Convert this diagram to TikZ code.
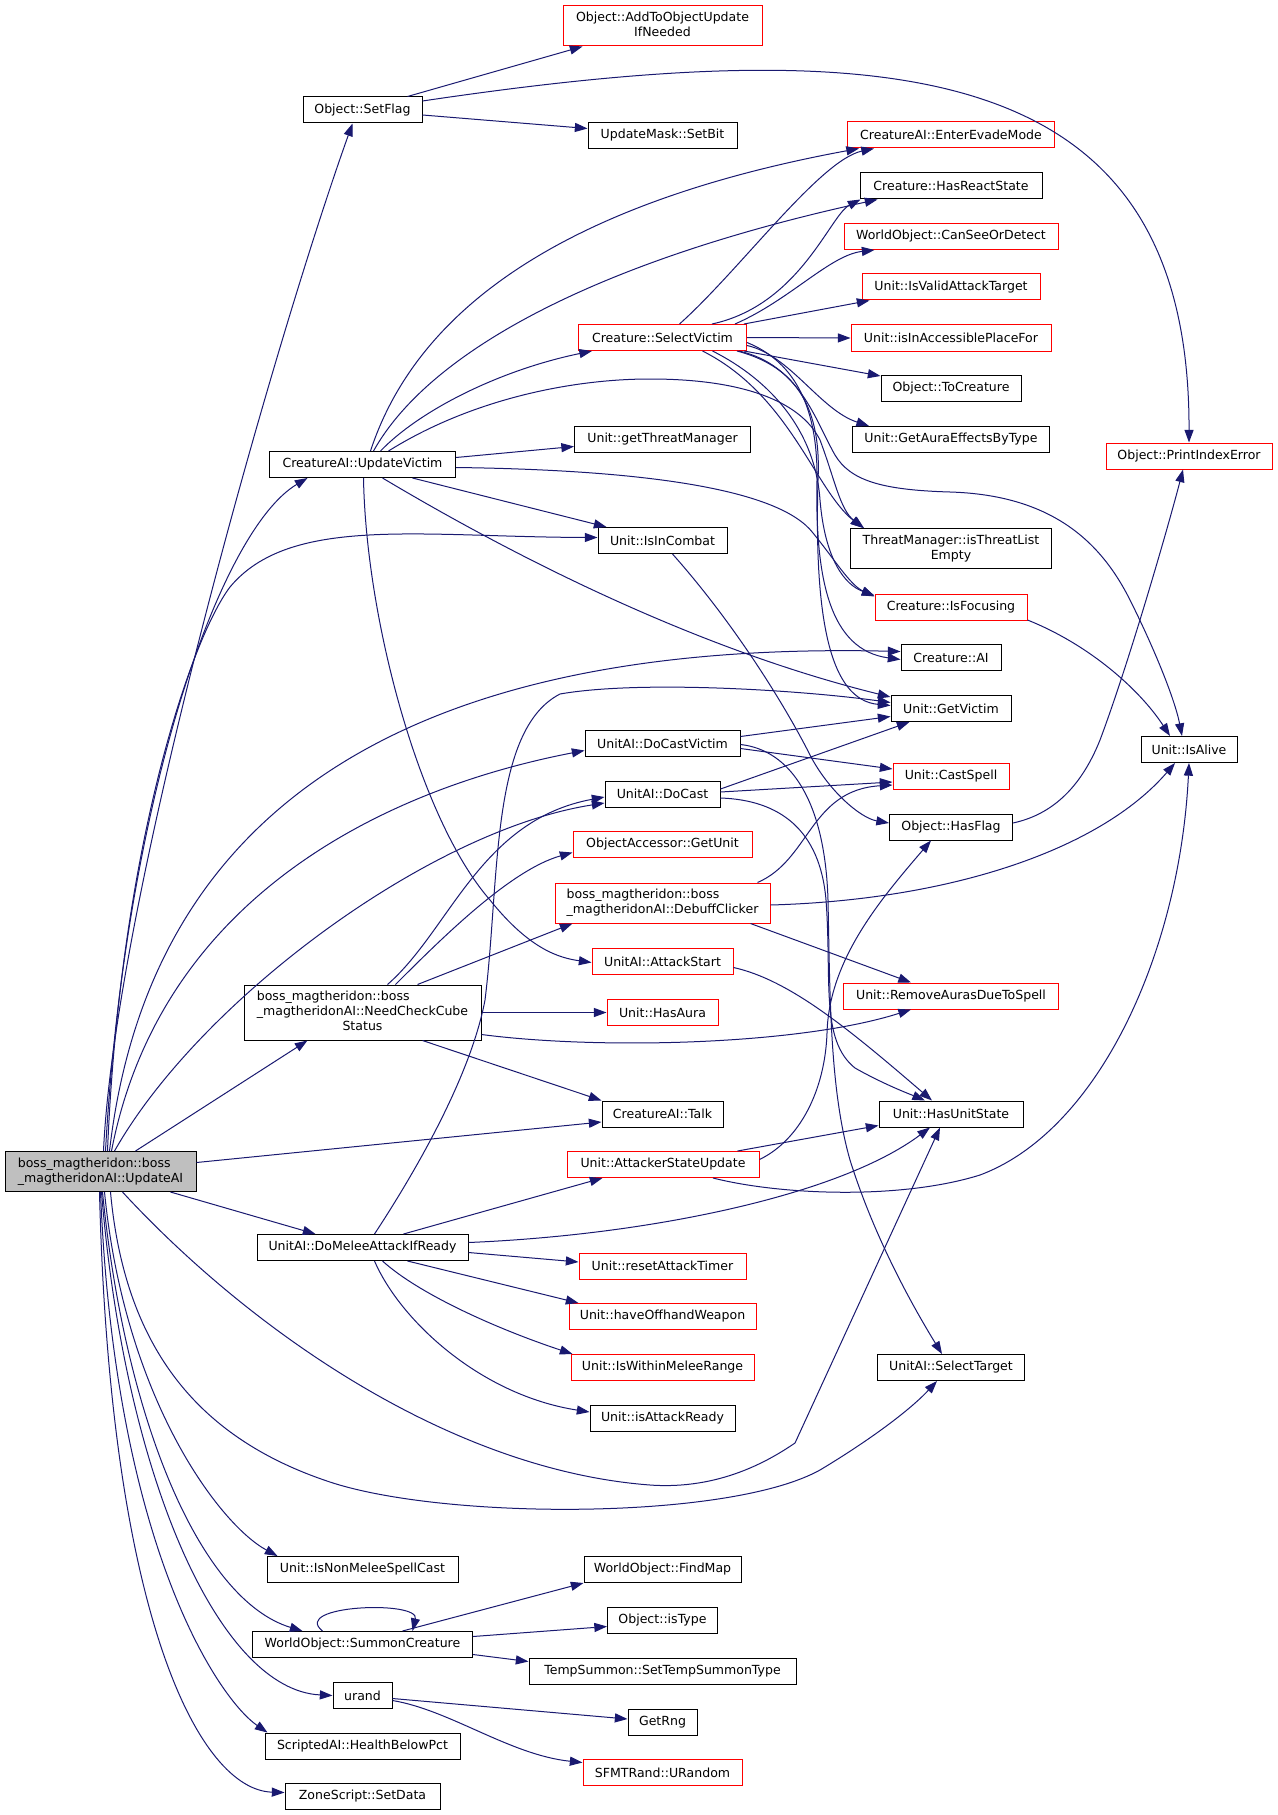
\documentclass[tikz,border=0pt]{standalone}
\usepackage{fontspec}
\setmainfont{DejaVu Sans}
\usetikzlibrary{arrows.meta,calc}
\definecolor{eblue}{RGB}{25,25,112}
\definecolor{bred}{RGB}{255,0,0}
\definecolor{gray75}{gray}{0.75}
\newcommand\mlTwo[2]{\begin{tabular}{@{}l@{}}#1\\\multicolumn{1}{@{}c@{}}{#2}\end{tabular}}
\newcommand\mlThree[3]{\begin{tabular}{@{}l@{}}#1\\#2\\\multicolumn{1}{@{}c@{}}{#3}\end{tabular}}
\begin{document}
\begin{tikzpicture}[x=0.75pt,y=-0.75pt,
  fn/.style={draw=black, line width=0.75pt, fill=white, inner sep=0pt, minimum height=26*0.75pt, font=\fontsize{9.4}{11.25}\selectfont},
  rn/.style={fn, draw=bred},
  e/.style={draw=eblue, line width=0.75pt, -{Triangle[length=9.5pt,width=6.8pt]}}]
\fill[white] (0,0) rectangle (1277,1815);
\useasboundingbox (0,0) rectangle (1277,1815);
% nodes
\node[rn, minimum width=199*0.75pt, minimum height=40*0.75pt] (aoun) at (662.5,26) {\mlTwo{Object::AddToObjectUpdate}{IfNeeded}};
\node[fn, minimum width=119*0.75pt] (sf) at (362.5,110) {Object::SetFlag};
\node[fn, minimum width=149*0.75pt] (sb) at (662.5,135.5) {UpdateMask::SetBit};
\node[rn, minimum width=207*0.75pt] (eem) at (951,135) {CreatureAI::EnterEvadeMode};
\node[fn, minimum width=182*0.75pt] (hrs) at (951,186) {Creature::HasReactState};
\node[rn, minimum width=214*0.75pt] (csd) at (951,236.5) {WorldObject::CanSeeOrDetect};
\node[rn, minimum width=178*0.75pt] (ivat) at (951,287) {Unit::IsValidAttackTarget};
\node[rn, minimum width=168*0.75pt] (sv) at (662.5,337.5) {Creature::SelectVictim};
\node[rn, minimum width=200*0.75pt] (iap) at (951,338) {Unit::isInAccessiblePlaceFor};
\node[fn, minimum width=140*0.75pt] (tc) at (951,388.5) {Object::ToCreature};
\node[fn, minimum width=176*0.75pt] (gtm) at (662.5,439.5) {Unit::getThreatManager};
\node[fn, minimum width=197*0.75pt] (gae) at (951,439.5) {Unit::GetAuraEffectsByType};
\node[rn, minimum width=166*0.75pt] (pie) at (1189,456) {Object::PrintIndexError};
\node[fn, minimum width=186*0.75pt] (uv) at (362.5,464.5) {CreatureAI::UpdateVictim};
\node[fn, minimum width=129*0.75pt] (ic) at (662.5,540.5) {Unit::IsInCombat};
\node[fn, minimum width=201*0.75pt, minimum height=40*0.75pt] (tle) at (951,548.5) {\mlTwo{ThreatManager::isThreatList}{Empty}};
\node[rn, minimum width=152*0.75pt] (isf) at (951,607) {Creature::IsFocusing};
\node[fn, minimum width=100*0.75pt] (ai) at (951,657.5) {Creature::AI};
\node[fn, minimum width=120*0.75pt] (gv) at (951,708.5) {Unit::GetVictim};
\node[fn, minimum width=155*0.75pt] (dcv) at (662.5,743.5) {UnitAI::DoCastVictim};
\node[fn, minimum width=96*0.75pt] (ia) at (1189,749.5) {Unit::IsAlive};
\node[rn, minimum width=116*0.75pt] (cs) at (951,776) {Unit::CastSpell};
\node[fn, minimum width=115*0.75pt] (dc) at (662.5,794) {UnitAI::DoCast};
\node[fn, minimum width=123*0.75pt] (hf) at (951,827) {Object::HasFlag};
\node[rn, minimum width=179*0.75pt] (gu) at (662.5,844.5) {ObjectAccessor::GetUnit};
\node[rn, minimum width=215*0.75pt, minimum height=40*0.75pt] (dbc) at (662.5,903) {\mlTwo{boss\_magtheridon::boss}{\_magtheridonAI::DebuffClicker}};
\node[rn, minimum width=141*0.75pt] (as) at (662.5,961.5) {UnitAI::AttackStart};
\node[rn, minimum width=215*0.75pt] (ra) at (951,996) {Unit::RemoveAurasDueToSpell};
\node[fn, minimum width=237*0.75pt, minimum height=55*0.75pt] (ncc) at (362.5,1012.5) {\mlThree{boss\_magtheridon::boss}{\_magtheridonAI::NeedCheckCube}{Status}};
\node[rn, minimum width=111*0.75pt] (ha) at (662.5,1012.5) {Unit::HasAura};
\node[fn, minimum width=121*0.75pt] (tk) at (662.5,1114) {CreatureAI::Talk};
\node[fn, minimum width=144*0.75pt] (hus) at (951,1114) {Unit::HasUnitState};
\node[fn, fill=gray75, minimum width=191*0.75pt, minimum height=40*0.75pt] (upd) at (100.5,1171.5) {\mlTwo{boss\_magtheridon::boss}{\_magtheridonAI::UpdateAI}};
\node[rn, minimum width=192*0.75pt] (asu) at (663,1164.5) {Unit::AttackerStateUpdate};
\node[fn, minimum width=211*0.75pt] (dm) at (362.5,1247.5) {UnitAI::DoMeleeAttackIfReady};
\node[rn, minimum width=167*0.75pt] (rat) at (662.5,1266) {Unit::resetAttackTimer};
\node[rn, minimum width=187*0.75pt] (how) at (662.5,1316.5) {Unit::haveOffhandWeapon};
\node[rn, minimum width=183*0.75pt] (iwm) at (662.5,1367.5) {Unit::IsWithinMeleeRange};
\node[fn, minimum width=147*0.75pt] (st) at (951,1367.5) {UnitAI::SelectTarget};
\node[fn, minimum width=145*0.75pt] (iar) at (662.5,1418) {Unit::isAttackReady};
\node[fn, minimum width=191*0.75pt] (inm) at (362.5,1569.5) {Unit::IsNonMeleeSpellCast};
\node[fn, minimum width=157*0.75pt] (fm) at (662.5,1569.5) {WorldObject::FindMap};
\node[fn, minimum width=110*0.75pt] (it) at (662.5,1620.5) {Object::isType};
\node[fn, minimum width=220*0.75pt] (sc) at (362.5,1644.5) {WorldObject::SummonCreature};
\node[fn, minimum width=267*0.75pt] (tst) at (662.5,1671.5) {TempSummon::SetTempSummonType};
\node[fn, minimum width=59*0.75pt] (ur) at (362.5,1695.5) {urand};
\node[fn, minimum width=69*0.75pt] (gr) at (662.5,1722) {GetRng};
\node[fn, minimum width=195*0.75pt] (hbp) at (362.5,1746) {ScriptedAI::HealthBelowPct};
\node[rn, minimum width=159*0.75pt] (urd) at (662.5,1772.5) {SFMTRand::URandom};
\node[fn, minimum width=155*0.75pt] (sd) at (362.5,1796.5) {ZoneScript::SetData};
% UpdateAI
\draw[e] ($(upd.north)+(3,0)$) .. controls (115,900) and (275,340) .. ($(sf.south)+(-10,0)$);
\draw[e] ($(upd.north)+(5,0)$) .. controls (125,800) and (220,530) .. ($(uv.south)+(-55,0)$);
\draw[e] ($(upd.north)+(7,0)$) .. controls (120,850) and (190,640) .. (230,587) .. controls (290,515) and (420,537) .. ($(ic.west)+(0,-3)$);
\draw[e] ($(upd.north)+(9,0)$) .. controls (150,800) and (420,640) .. ($(ai.west)+(0,-6)$);
\draw[e] ($(upd.north)+(11,0)$) .. controls (160,900) and (380,790) .. ($(dcv.west)+(0,7)$);
\draw[e] ($(upd.north)+(14,0)$) .. controls (200,1000) and (430,830) .. ($(dc.west)+(0,9)$);
\draw[e] ($(upd.north)+(35,0)$) -- ($(ncc.south)+(-55,0)$);
\draw[e] ($(upd.east)+(0,-9)$) -- ($(tk.west)+(0,8)$);
\draw[e] ($(upd.south)+(70,0)$) -- ($(dm.north)+(-47,0)$);
\draw[e] ($(upd.south)+(22,0)$) .. controls (250,1330) and (450,1470) .. (650,1485) .. controls (720,1490) and (770,1460) .. (795,1443) -- ($(hus.south)+(-11,0)$);
\draw[e] ($(upd.south)+(10,0)$) .. controls (125,1350) and (200,1440) .. (333,1483) .. controls (450,1520) and (730,1520) .. (820,1470) .. controls (870,1440) and (910,1410) .. ($(st.south)+(-14,0)$);
\draw[e] ($(upd.south)+(4,0)$) .. controls (125,1400) and (220,1525) .. ($(inm.north)+(-85,0)$);
\draw[e] ($(upd.south)+(2,0)$) .. controls (125,1420) and (200,1600) .. ($(sc.north)+(-60,0)$);
\draw[e] ($(upd.south)+(1,0)$) .. controls (125,1480) and (220,1690) .. (ur.west);
\draw[e] (upd.south) .. controls (115,1550) and (220,1700) .. ($(hbp.north)+(-95,0)$);
\draw[e] ($(upd.south)+(-1,0)$) .. controls (110,1620) and (200,1790) .. ($(sd.west)+(0,-4)$);
% SetFlag
\draw[e] ($(sf.north)+(45,0)$) -- ($(aoun.south)+(-80,0)$);
\draw[e] ($(sf.east)+(0,5)$) -- ($(sb.west)+(0,-7)$);
\draw[e] ($(sf.east)+(0,-9)$) .. controls (900,30) and (1190,60) .. (pie.north);
% UpdateVictim
\draw[e] ($(uv.north)+(8,0)$) .. controls (420,300) and (580,200) .. ($(eem.south west)+(12,0)$);
\draw[e] ($(uv.north)+(11,0)$) .. controls (430,350) and (600,260) .. ($(hrs.south west)+(18,0)$);
\draw[e] ($(uv.north)+(18,0)$) .. controls (420,410) and (500,370) .. ($(sv.south west)+(14,0)$);
\draw[e] ($(uv.north)+(26,0)$) .. controls (470,400) and (570,379) .. (650,379) .. controls (740,379) and (800,400) .. (820,440) .. controls (835,480) and (840,510) .. ($(tle.north west)+(14,0)$);
\draw[e] ($(uv.east)+(0,-7)$) -- ($(gtm.west)+(0,7)$);
\draw[e] ($(uv.east)+(0,3)$) .. controls (650,470) and (780,490) .. (813,533) .. controls (835,560) and (850,585) .. ($(isf.north west)+(0,3)$);
\draw[e] ($(uv.south)+(50,0)$) -- ($(ic.north west)+(9,0)$);
\draw[e] ($(uv.south)+(20,0)$) .. controls (520,560) and (700,650) .. ($(gv.north west)+(0,2)$);
\draw[e] ($(uv.south)+(1,0)$) .. controls (366,620) and (420,820) .. (490,900) .. controls (530,950) and (560,958) .. ($(as.west)+(0,1)$);
% SelectVictim
\draw[e] ($(sv.north)+(17,0)$) .. controls (740,270) and (820,160) .. ($(eem.south west)+(27,0)$);
\draw[e] ($(sv.north east)+(-35,0)$) .. controls (800,305) and (830,215) .. ($(hrs.south west)+(1,0)$);
\draw[e] ($(sv.north east)+(-12,0)$) .. controls (790,300) and (830,255) .. ($(csd.south west)+(31,0)$);
\draw[e] ($(sv.north east)+(-3,0)$) -- ($(ivat.south west)+(8,0)$);
\draw[e] (sv.east) -- (iap.west);
\draw[e] ($(sv.south east)+(-3,0)$) -- ($(tc.north west)+(0,1)$);
\draw[e] ($(sv.east)+(0,8)$) .. controls (790,355) and (820,410) .. ($(gae.north west)+(17,0)$);
\draw[e] ($(sv.south east)+(-8,0)$) .. controls (800,365) and (815,420) .. (835,455) .. controls (850,480) and (880,490) .. (950,492) .. controls (1050,495) and (1100,540) .. (1130,600) .. controls (1155,650) and (1175,700) .. ($(ia.north)+(-7,0)$);
\draw[e] ($(sv.south)+(40,0)$) .. controls (790,395) and (815,490) .. ($(tle.north west)+(13,0)$);
\draw[e] ($(sv.south)+(50,0)$) .. controls (770,380) and (815,430) .. (820,500) .. controls (825,560) and (845,585) .. ($(isf.north west)+(0,2)$);
\draw[e] ($(sv.east)+(0,5)$) .. controls (790,360) and (818,400) .. (817,480) .. controls (815,580) and (830,650) .. ($(ai.west)+(0,2)$);
\draw[e] ($(sv.south east)+(-10,0)$) .. controls (790,365) and (822,400) .. (818,480) .. controls (814,620) and (830,700) .. ($(gv.west)+(0,-3)$);
% IsInCombat
\draw[e] ($(ic.south)+(10,0)$) .. controls (740,630) and (790,715) .. (810,755) .. controls (828,790) and (860,818) .. ($(hf.west)+(0,-4)$);
% IsFocusing
\draw[e] ($(isf.east)+(0,13)$) .. controls (1090,645) and (1140,690) .. ($(ia.north)+(-19,0)$);
% HasFlag
\draw[e] ($(hf.east)+(0,-4)$) .. controls (1050,815) and (1080,790) .. (1100,740) .. controls (1130,660) and (1170,520) .. ($(pie.south)+(-6,0)$);
% DoCastVictim
\draw[e] ($(dcv.east)+(0,-7)$) -- ($(gv.west)+(0,8)$);
\draw[e] ($(dcv.east)+(0,5)$) -- ($(cs.west)+(0,-7)$);
\draw[e] ($(dcv.east)+(0,1)$) .. controls (790,750) and (825,800) .. (828,900) .. controls (830,1000) and (830,1090) .. (850,1160) .. controls (875,1240) and (915,1310) .. ($(st.north)+(-9,0)$);
% DoCast
\draw[e] ($(dc.east)+(0,-5)$) -- ($(gv.south west)+(19,0)$);
\draw[e] ($(dc.east)+(0,-2)$) -- ($(cs.west)+(0,6)$);
\draw[e] ($(dc.east)+(0,4)$) .. controls (780,800) and (820,830) .. (826,900) .. controls (832,980) and (820,1040) .. (855,1068) .. controls (885,1085) and (912,1095) .. ($(hus.north)+(-26,0)$);
% DebuffClicker
\draw[e] ($(dbc.north east)+(-13,0)$) .. controls (810,860) and (810,790) .. ($(cs.west)+(0,9)$);
\draw[e] ($(dbc.east)+(0,2)$) .. controls (950,900) and (1100,850) .. ($(ia.south)+(-14,0)$);
\draw[e] ($(dbc.south east)+(-20,0)$) -- ($(ra.north)+(-40,0)$);
% AttackStart
\draw[e] ($(as.east)+(0,6)$) .. controls (790,980) and (850,1030) .. ($(hus.north)+(-19,0)$);
% NeedCheckCube
\draw[e] ($(ncc.north)+(25,0)$) .. controls (450,930) and (480,820) .. ($(dc.west)+(0,3)$);
\draw[e] ($(ncc.north)+(33,0)$) .. controls (440,940) and (510,870) .. ($(gu.west)+(0,8)$);
\draw[e] ($(ncc.north east)+(-64,0)$) -- ($(dbc.south west)+(18,0)$);
\draw[e] (ncc.east) -- (ha.west);
\draw[e] ($(ncc.east)+(0,22)$) .. controls (600,1050) and (800,1045) .. ($(ra.south)+(-40,0)$);
\draw[e] ($(ncc.south)+(60,0)$) -- (tk.north west);
% AttackerStateUpdate
\draw[e] ($(asu.north east)+(-22,0)$) -- ($(hus.south west)+(0,-2)$);
\draw[e] ($(asu.east)+(0,-5)$) .. controls (800,1140) and (825,1090) .. (827,1033) .. controls (829,960) and (880,900) .. ($(hf.south)+(-20,0)$);
\draw[e] ($(asu.south)+(50,0)$) .. controls (780,1195) and (900,1200) .. (980,1175) .. controls (1100,1130) and (1180,950) .. (ia.south);
% DoMeleeAttackIfReady
\draw[e] ($(dm.north)+(12,0)$) .. controls (410,1180) and (470,1080) .. (485,1000) .. controls (500,880) and (490,730) .. (560,694) .. controls (640,680) and (800,690) .. ($(gv.west)+(0,-6)$);
\draw[e] ($(dm.north east)+(-65,0)$) -- ($(asu.south west)+(36,0)$);
\draw[e] ($(dm.east)+(0,-5)$) .. controls (650,1235) and (840,1195) .. ($(hus.south)+(-21,0)$);
\draw[e] ($(dm.east)+(0,5)$) -- ($(rat.west)+(0,-4)$);
\draw[e] ($(dm.south)+(45,0)$) -- ($(how.north west)+(10,0)$);
\draw[e] ($(dm.south)+(20,0)$) .. controls (420,1295) and (500,1330) .. ($(iwm.north west)+(2,0)$);
\draw[e] ($(dm.south)+(12,0)$) .. controls (400,1320) and (480,1395) .. ($(iar.west)+(0,-6)$);
% SummonCreature
\draw[e] ($(sc.north)+(-40,0)$) .. controls (290,1605) and (420,1600) .. ($(sc.north)+(50,0)$);
\draw[e] ($(sc.north)+(40,0)$) -- (fm.south west);
\draw[e] ($(sc.east)+(0,-8)$) -- ($(it.west)+(0,6)$);
\draw[e] ($(sc.east)+(0,10)$) -- ($(tst.west)+(0,-10)$);
% urand
\draw[e] ($(ur.east)+(0,3)$) -- ($(gr.west)+(0,-3)$);
\draw[e] ($(ur.east)+(0,5)$) .. controls (450,1710) and (510,1755) .. ($(urd.west)+(0,-10)$);
\end{tikzpicture}
\end{document}
